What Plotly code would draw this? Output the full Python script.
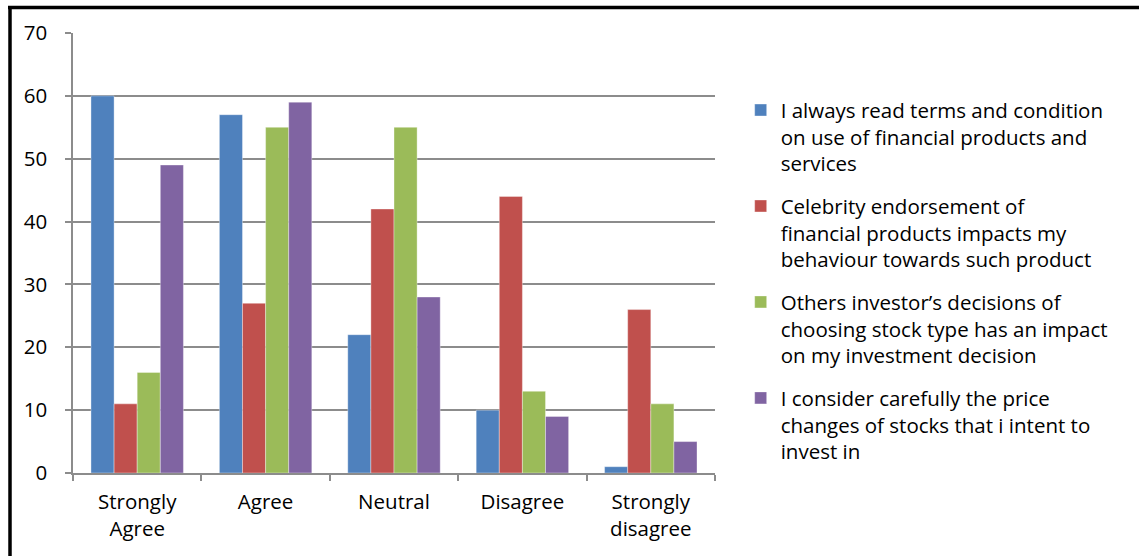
import plotly.graph_objects as go

# Response categories on the x axis
categories = ["Strongly<br>Agree", "Agree", "Neutral", "Disagree", "Strongly<br>disagree"]

# Number of respondents per statement
read_terms = [60, 57, 22, 10, 1]
celebrity = [11, 27, 42, 44, 26]
others_decisions = [16, 55, 55, 13, 11]
price_changes = [49, 59, 28, 9, 5]

series_names = [
    "I always read terms and condition<br>on use of financial products and<br>services",
    "Celebrity endorsement of<br>financial products impacts my<br>behaviour towards such product",
    "Others investor’s decisions of<br>choosing stock type has an impact<br>on my investment decision",
    "I consider carefully the price<br>changes of stocks that i intent to<br>invest in",
]
series_values = [read_terms, celebrity, others_decisions, price_changes]
colors = ["#4F81BD", "#C0504D", "#9BBB59", "#8064A2"]

W, H = 1139, 556
L, R, T, B = 73, 715, 33, 473

fig = go.Figure()
for i, (name, vals, col) in enumerate(zip(series_names, series_values, colors)):
    fig.add_trace(go.Bar(
        x=categories, y=vals, name=name, legendgroup=f"g{i}",
        marker=dict(color=col, line=dict(color="rgba(255,255,255,0.6)", width=0.6)),
    ))

font_family = "'Open Sans', sans-serif"

fig.update_layout(
    width=W, height=H,
    margin=dict(l=L, r=W - R, t=T, b=H - B, pad=0),
    paper_bgcolor="white", plot_bgcolor="white",
    barmode="group", bargap=0.28, bargroupgap=0,
    font=dict(family=font_family, color="#000000", size=20),
    showlegend=True,
    legend=dict(
        x=1.04, y=0.87, xanchor="left", yanchor="top",
        valign="top", tracegroupgap=13,
        font=dict(size=20.5, family=font_family, color="#000000"),
        itemwidth=30,
    ),
    xaxis=dict(
        showline=True, linecolor="#8c8c8c", linewidth=1.5,
        ticks="outside", ticklen=6, tickcolor="#8c8c8c", tickwidth=1.5,
        tickson="boundaries", showgrid=False,
        tickfont=dict(size=20.5), ticklabelstandoff=10,
    ),
    yaxis=dict(
        range=[0, 70], dtick=10,
        showline=True, linecolor="#8c8c8c", linewidth=1.5,
        ticks="outside", ticklen=6, tickcolor="#8c8c8c", tickwidth=1.5,
        showgrid=True, gridcolor="#8c8c8c", gridwidth=1.5,
        zeroline=False, tickfont=dict(size=20.5), ticklabelstandoff=14,
    ),
)

# Black frame along the top and left edge of the picture
px_x = lambda p: (p - L) / (R - L)
px_y = lambda p: (B - p) / (B - T)
fig.add_shape(type="line", xref="paper", yref="paper",
              x0=px_x(8), x1=px_x(W + 5), y0=px_y(7.5), y1=px_y(7.5),
              line=dict(color="black", width=3.5))
fig.add_shape(type="line", xref="paper", yref="paper",
              x0=px_x(10), x1=px_x(10), y0=px_y(6), y1=px_y(H + 5),
              line=dict(color="black", width=3.5))

fig.write_html("out.html")
